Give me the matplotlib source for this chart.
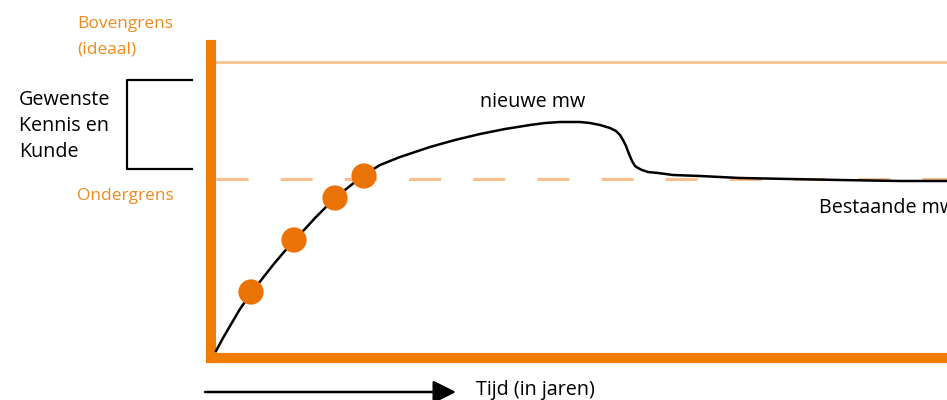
import matplotlib.pyplot as plt

plt.rcParams['font.family'] = ['Open Sans', 'DejaVu Sans']

# curve: time (x) vs level (y), both in chart units
curve_x = [5, 12, 19, 29, 41, 51, 62, 73, 83, 94, 104, 114, 124, 134, 144,
           153, 161, 169, 179, 189, 204, 219, 244, 269, 294, 319, 334, 349, 369, 379,
           389, 399, 405, 409, 412, 415, 418, 421, 424, 427, 431, 437, 447, 462, 489,
           529, 579, 629, 689, 736]
curve_y = [7, 20, 32, 49, 66, 79, 93, 106, 118, 129, 140, 150, 160, 168, 176,
           182, 188, 193, 197, 201, 206, 211, 218, 224, 229, 233, 235, 236, 236, 235,
           233, 230, 227, 223, 218, 212, 204, 197, 192, 190, 188, 186, 185, 183, 182,
           180, 179, 178, 177, 177]

# orange points on the rising part
dots_x = [40, 83, 124, 153]
dots_y = [66, 118, 160, 182]

upper_bound = 296   # Bovengrens (ideaal)
lower_bound = 179   # Ondergrens

# bracket next to the y axis (Gewenste Kennis en Kunde)
bracket_x = [-19, -84, -84, -19]
bracket_y = [278, 278, 189, 189]

ORANGE = "#EF7D00"
LIGHT = "#FAC08C"
TEXT_ORANGE = "#F0891E"

W, H = 947, 400
fig = plt.figure(figsize=(W / 100, H / 100), dpi=100)


def px(x, y):
    # pixel position (from top-left) to figure fraction
    return x / W, 1 - y / H


ax = fig.add_axes([211 / W, 42 / H, 736 / W, 313 / H])
ax.set_xlim(0, 736)
ax.set_ylim(0, 313)
ax.set_xticks([])
ax.set_yticks([])
for s in ["top", "right"]:
    ax.spines[s].set_visible(False)
for s in ["left", "bottom"]:
    ax.spines[s].set_color(ORANGE)
    ax.spines[s].set_linewidth(7.3)
    ax.spines[s].set_capstyle("projecting")

ax.plot([5, 736], [upper_bound, upper_bound], color=LIGHT, lw=1.9)
ax.plot([5, 736], [lower_bound, lower_bound], color=LIGHT, lw=2.2,
        linestyle=(0, (10.5, 10.5)))

ax.plot(curve_x, curve_y, color="black", lw=1.8, clip_on=False,
        solid_joinstyle="round", zorder=3)
ax.scatter(dots_x, dots_y, s=330, color="#EB7204", edgecolors="none", zorder=4)

ax.plot(bracket_x, bracket_y, color="black", lw=1.6, clip_on=False)

# labels
fs = 14.2
fo = 12.5
fig.text(*px(77, 28), "Bovengrens", color=TEXT_ORANGE, fontsize=fo, va="baseline")
fig.text(*px(77, 53), "(ideaal)", color=TEXT_ORANGE, fontsize=fo, va="baseline")
fig.text(*px(77, 200), "Ondergrens", color=TEXT_ORANGE, fontsize=fo, va="baseline")
fig.text(*px(19, 105), "Gewenste", color="black", fontsize=fs, va="baseline")
fig.text(*px(19, 131), "Kennis en", color="black", fontsize=fs, va="baseline")
fig.text(*px(19, 157), "Kunde", color="black", fontsize=fs, va="baseline")
fig.text(*px(480, 107), "nieuwe mw", color="black", fontsize=fs, va="baseline")
# the reference runs this label past the right edge
fig.text(*px(819, 213), "Bestaande mw", color="black", fontsize=fs, va="baseline")
fig.text(*px(476, 395), "Tijd (in jaren)", color="black", fontsize=fs, va="baseline")

# time arrow under the x axis
ax.annotate("", xy=px(456, 392), xytext=px(205, 392),
            xycoords="figure fraction", textcoords="figure fraction",
            arrowprops=dict(arrowstyle="-|>,head_length=1.4,head_width=0.7",
                            color="black", lw=1.8, shrinkA=0, shrinkB=0))

plt.savefig("out.png", dpi=100)
